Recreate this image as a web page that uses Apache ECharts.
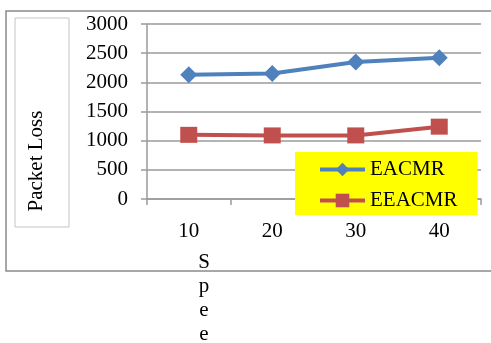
<!DOCTYPE html>
<html>
<head>
<meta charset="utf-8">
<script src="https://cdn.jsdelivr.net/npm/echarts@6/dist/echarts.min.js"></script>
<style>
  html, body { margin: 0; padding: 0; background: #fff; }
  #chart { width: 491px; height: 343px; }
</style>
</head>
<body>
<div id="chart"></div>
<script>
// Packet loss for the two routing schemes at each speed setting
const speeds = ['10', '20', '30', '40'];
const eacmr = [2130, 2150, 2350, 2420];
const eeacmr = [1100, 1090, 1090, 1240];
const yTicks = { min: 0, max: 3000, step: 500 };

const FONT = '"Liberation Serif", "Times New Roman", serif';
const FS = 21;
const GRID = '#9a9a9a';

const chart = echarts.init(document.getElementById('chart'));
chart.setOption({
  animation: false,
  backgroundColor: '#fff',
  textStyle: { fontFamily: FONT, color: '#000' },
  grid: { left: 147, right: 10, top: 24, bottom: 144 },
  xAxis: {
    type: 'category',
    data: speeds,
    boundaryGap: true,
    axisLine: { show: true, lineStyle: { color: GRID, width: 1.5 } },
    axisTick: { show: true, length: 6, lineStyle: { color: GRID, width: 1.5 } },
    axisLabel: { color: '#000', fontFamily: FONT, fontSize: FS, margin: 22 }
  },
  yAxis: {
    type: 'value',
    min: yTicks.min,
    max: yTicks.max,
    interval: yTicks.step,
    axisLine: { show: true, lineStyle: { color: GRID, width: 1.5 } },
    axisTick: { show: true, length: 6, lineStyle: { color: GRID, width: 1.5 } },
    splitLine: { show: true, lineStyle: { color: GRID, width: 1.5 } },
    axisLabel: {
      color: '#000', fontFamily: FONT, fontSize: FS, margin: 19,
      formatter: v => String(v)
    }
  },
  legend: {
    orient: 'vertical',
    left: 295,
    top: 152,
    padding: [7, 20, 4, 23],
    backgroundColor: '#ffff00',
    itemWidth: 45,
    itemHeight: 17,
    itemGap: 10,
    lineStyle: { width: 4 },
    textStyle: { fontFamily: FONT, fontSize: FS, color: '#000' },
    data: ['EACMR', 'EEACMR'],
    z: 10
  },
  series: [
    {
      name: 'EACMR',
      type: 'line',
      data: eacmr,
      symbol: 'diamond',
      symbolSize: 17,
      lineStyle: { color: '#4f81bd', width: 4 },
      itemStyle: { color: '#4f81bd' }
    },
    {
      name: 'EEACMR',
      type: 'line',
      data: eeacmr,
      symbol: 'rect',
      symbolSize: [17, 16],
      lineStyle: { color: '#c0504d', width: 4 },
      itemStyle: { color: '#c0504d' }
    }
  ],
  graphic: [
    {
      type: 'rect',
      shape: { x: 6, y: 11, width: 500, height: 260 },
      style: { fill: 'none', stroke: '#8a8a8a', lineWidth: 1.5 },
      silent: true,
      z: -1
    },
    {
      type: 'rect',
      shape: { x: 15, y: 18, width: 54, height: 209 },
      style: { fill: 'none', stroke: '#c4c4c4', lineWidth: 1 },
      silent: true,
      z: -1
    },
    {
      type: 'text',
      x: 36,
      y: 161,
      rotation: Math.PI / 2,
      style: {
        text: 'Packet Loss',
        font: FS + 'px ' + FONT,
        fill: '#000',
        align: 'center',
        verticalAlign: 'middle'
      }
    },
    {
      type: 'text',
      x: 204,
      y: 250,
      style: {
        text: 'S\np\ne\ne',
        font: FS + 'px ' + FONT,
        lineHeight: 24,
        fill: '#000',
        align: 'center',
        verticalAlign: 'top'
      }
    }
  ]
});
</script>
</body>
</html>
